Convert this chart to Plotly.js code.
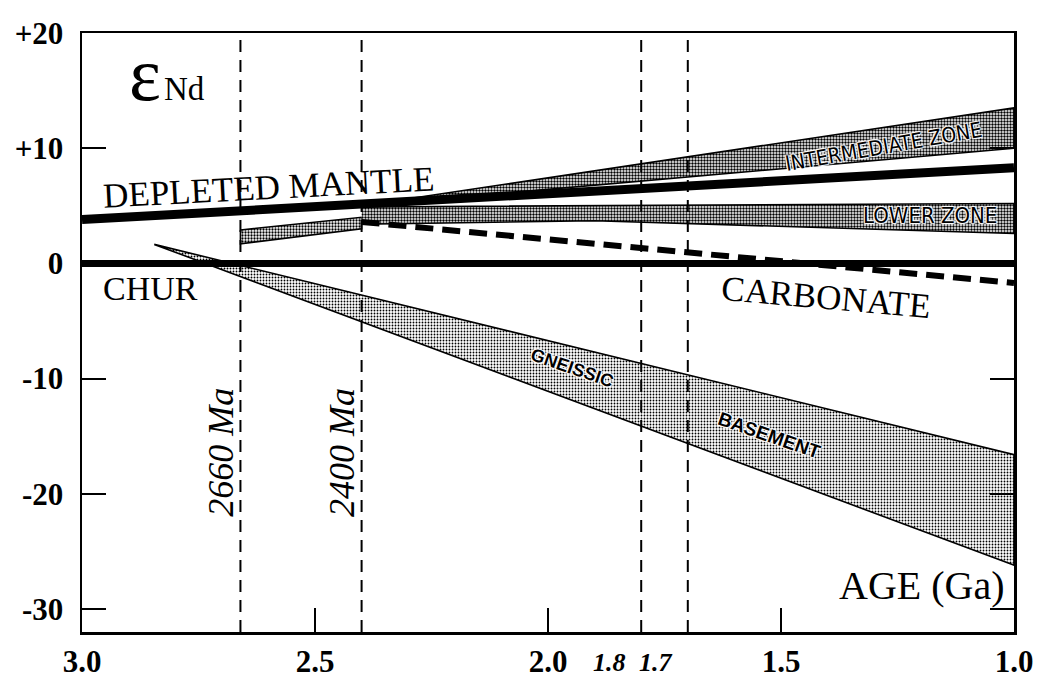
<!DOCTYPE html>
<html>
<head>
<meta charset="utf-8">
<script src="https://cdn.plot.ly/plotly-3.0.1.min.js"></script>
<style>
  html, body { margin: 0; padding: 0; background: #fff; }
  #chart { width: 1041px; height: 682px; }
</style>
</head>
<body>
<div id="chart"></div>
<script>
// ---- data (age in Ga, epsilon Nd) ----
const churAge = [3.0, 1.0];
const churEps = [0, 0];

const dmAge = [3.0, 1.0];
const dmEps = [3.8, 8.3];

const carbAge = [2.4, 1.0];
const carbEps = [3.6, -1.7];

const gneissAge = [2.845, 1.0, 1.0, 2.845];
const gneissEps = [1.65, -16.6, -26.2, 1.65];

const earlyAge = [2.66, 2.4, 2.4, 2.66, 2.66];
const earlyEps = [2.9, 4.0, 3.0, 1.7, 2.9];

const interAge = [2.4, 1.0, 1.0, 2.4];
const interEps = [5.0, 13.5, 10.0, 5.0];

const lowerAge = [2.4, 1.0, 1.0, 1.9, 2.4];
const lowerEps = [4.9, 5.2, 2.6, 3.7, 3.4];

const markerAges = [2.66, 2.4, 1.8, 1.7];
const markerLabels = ['2660 Ma', '2400 Ma'];
const italicTickVals = [1.8, 1.7];
const italicTickText = ['1.8', '1.7'];

const xTickVals = [3.0, 2.5, 2.0, 1.5, 1.0];
const xTickText = ['3.0', '2.5', '2.0', '1.5', '1.0'];
const yTickVals = [-30, -20, -10, 0, 10, 20];
const yTickText = ['-30', '-20', '-10', '0', '+10', '+20'];

// ---- styles ----
const serif = 'Liberation Serif, Times New Roman, serif';
const narrow = 'Liberation Sans Narrow, DejaVu Sans Condensed, Roboto Condensed, Liberation Sans, Arial, sans-serif';
const sans = 'Liberation Sans, Arial, sans-serif';
const halo = '1px 1px 1px #fff, -1px -1px 1px #fff, 1px -1px 1px #fff, -1px 1px 1px #fff';

function band(x, y, solidity) {
  return {
    type: 'scatter', mode: 'lines', x: x, y: y, fill: 'toself',
    fillcolor: 'rgba(0,0,0,0)',
    fillpattern: { shape: '.', fgcolor: '#000', bgcolor: '#fff', size: 3, solidity: solidity },
    line: { color: '#000', width: 1.6 }, hoverinfo: 'skip', showlegend: false
  };
}

const traces = [
  band(gneissAge, gneissEps, 0.3),
  band(earlyAge, earlyEps, 0.45),
  band(lowerAge, lowerEps, 0.5),
  band(interAge, interEps, 0.5),
  { type: 'scatter', mode: 'lines', x: churAge, y: churEps,
    line: { color: '#000', width: 7 }, hoverinfo: 'skip', showlegend: false },
  { type: 'scatter', mode: 'lines', x: dmAge, y: dmEps,
    line: { color: '#000', width: 9 }, hoverinfo: 'skip', showlegend: false },
  { type: 'scatter', mode: 'lines', x: carbAge, y: carbEps,
    line: { color: '#000', width: 6, dash: '18px,9px' }, hoverinfo: 'skip', showlegend: false }
];

const shapes = markerAges.map(a => ({
  type: 'line', xref: 'x', yref: 'paper', x0: a, x1: a, y0: 0, y1: 1,
  line: { color: '#000', width: 2, dash: '12px,8px' }, layer: 'above'
}));

function lab(text, x, y, size, opts) {
  return Object.assign({
    text: text, x: x, y: y, xref: 'x', yref: 'y', showarrow: false,
    font: { family: serif, size: size, color: '#000' }
  }, opts || {});
}

const italicSerif = { family: serif, size: 36, color: '#000', style: 'italic' };

const annotations = [
  lab('ε', 2.865, 16.4, 76),
  lab('Nd', 2.78, 15.1, 33),
  lab('DEPLETED MANTLE', 2.6, 6.6, 35, { textangle: -3 }),
  lab('CHUR', 2.852, -2.2, 34),
  lab('CARBONATE', 1.403, -2.95, 35, { textangle: 5 }),
  lab('INTERMEDIATE ZONE', 1.281, 10.1, 21,
      { textangle: -10, font: { family: narrow, size: 21, color: '#000', shadow: halo } }),
  lab('LOWER ZONE', 1.18, 4.15, 22,
      { font: { family: narrow, size: 22, color: '#000', shadow: halo } }),
  lab('GNEISSIC', 1.948, -9.1, 18,
      { textangle: 19, font: { family: sans, size: 18, color: '#000', weight: 'bold', shadow: halo } }),
  lab('BASEMENT', 1.524, -14.9, 19,
      { textangle: 19, font: { family: sans, size: 19, color: '#000', weight: 'bold', shadow: halo } }),
  lab(markerLabels[0], markerAges[0], -16.4, 36,
      { textangle: -90, xshift: -19, font: italicSerif }),
  lab(markerLabels[1], markerAges[1], -16.4, 36,
      { textangle: -90, xshift: -19, font: italicSerif }),
  lab('AGE (Ga)', 1.197, -27.95, 40)
];

italicTickVals.forEach((v, i) => {
  annotations.push({
    text: italicTickText[i], x: v, y: 0, xref: 'x', yref: 'paper', yanchor: 'top',
    yshift: -14, xshift: -32, showarrow: false,
    font: { family: serif, size: 26, color: '#000', style: 'italic', weight: 'bold' }
  });
});

const layout = {
  width: 1041, height: 682,
  margin: { l: 82, r: 27, t: 33, b: 50 },
  paper_bgcolor: '#fff', plot_bgcolor: '#fff',
  hovermode: false, showlegend: false,
  xaxis: {
    range: [3.0, 1.0], tickvals: xTickVals, ticktext: xTickText,
    ticks: 'inside', ticklen: 24, tickwidth: 2, tickcolor: '#000',
    showline: true, linecolor: '#000', linewidth: 2.5, mirror: true,
    showgrid: false, zeroline: false, ticklabelstandoff: 0,
    tickfont: { family: serif, size: 31, color: '#000', weight: 'bold' }
  },
  yaxis: {
    range: [-32, 20], tickvals: yTickVals, ticktext: yTickText,
    ticks: 'inside', ticklen: 24, tickwidth: 2, tickcolor: '#000',
    showline: true, linecolor: '#000', linewidth: 2.5, mirror: 'ticks',
    showgrid: false, zeroline: false, ticklabelstandoff: 10,
    tickfont: { family: serif, size: 31, color: '#000', weight: 'bold' }
  },
  shapes: shapes,
  annotations: annotations
};

Plotly.newPlot('chart', traces, layout, { staticPlot: true, displayModeBar: false });
</script>
</body>
</html>
